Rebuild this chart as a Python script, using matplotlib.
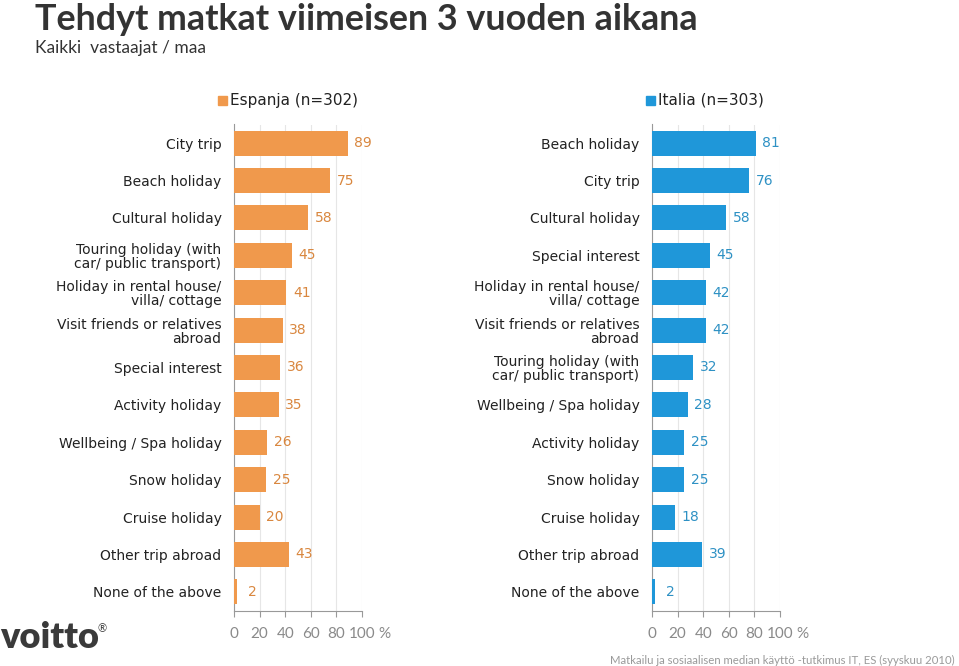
import numpy as np
import matplotlib.pyplot as plt

# data
esp_labels = ["City trip", "Beach holiday", "Cultural holiday",
              "Touring holiday (with\ncar/ public transport)",
              "Holiday in rental house/\nvilla/ cottage",
              "Visit friends or relatives\nabroad", "Special interest",
              "Activity holiday", "Wellbeing / Spa holiday", "Snow holiday",
              "Cruise holiday", "Other trip abroad", "None of the above"]
esp_values = [89, 75, 58, 45, 41, 38, 36, 35, 26, 25, 20, 43, 2]

ita_labels = ["Beach holiday", "City trip", "Cultural holiday", "Special interest",
              "Holiday in rental house/\nvilla/ cottage",
              "Visit friends or relatives\nabroad",
              "Touring holiday (with\ncar/ public transport)",
              "Wellbeing / Spa holiday", "Activity holiday", "Snow holiday",
              "Cruise holiday", "Other trip abroad", "None of the above"]
ita_values = [81, 76, 58, 45, 42, 42, 32, 28, 25, 25, 18, 39, 2]

ticks = [0, 20, 40, 60, 80, 100]

W, H = 959, 666
fig = plt.figure(figsize=(W / 100, H / 100), dpi=100)


def panel(left_px, labels, values, bar_col, txt_col):
    ax = fig.add_axes([left_px / W, (H - 610.5) / H, 128 / W, 486 / H])
    y = np.arange(len(values))
    ax.barh(y, values, height=0.67, color=bar_col, zorder=3)
    ax.set_ylim(len(values) - 0.5, -0.5)
    ax.set_xlim(0, 100)
    ax.set_xticks(ticks)
    ax.set_xticklabels([str(t) for t in ticks], color="#8a8a8a", fontsize=11,
                       family="Lato")
    ax.tick_params(axis="x", direction="out", length=4, color="#999999", pad=8)
    ax.set_yticks(y)
    ax.set_yticklabels(labels, fontsize=10, color="#222222", linespacing=1.0)
    ax.tick_params(axis="y", length=0, pad=9)
    ax.grid(axis="x", color="#e6e6e6", linewidth=0.8, zorder=0)
    for s in ["top", "right"]:
        ax.spines[s].set_visible(False)
    ax.spines["left"].set_color("#999999")
    ax.spines["bottom"].set_color("#999999")
    for yi, v in zip(y, values):
        ax.text(v + 12, yi, str(v), va="center", ha="center",
                color=txt_col, fontsize=10, clip_on=False)
    ax.annotate("%", xy=(100, len(values) - 0.5), xycoords="data",
                xytext=(12, -12), textcoords="offset points",
                ha="left", va="top", color="#8a8a8a", fontsize=11,
                family="Lato", annotation_clip=False)
    return ax


panel(234, esp_labels, esp_values, "#f0994c", "#d9873f")
panel(652, ita_labels, ita_values, "#1f97d9", "#2e91c4")

# legends
fig.patches.append(plt.Rectangle((218 / W, 1 - 105 / H), 9 / W, 9 / H,
                                 transform=fig.transFigure, color="#f0994c"))
fig.text(230 / W, 1 - 100 / H, "Espanja (n=302)", fontsize=11,
         va="center", color="#222222")
fig.patches.append(plt.Rectangle((646 / W, 1 - 105 / H), 9 / W, 9 / H,
                                 transform=fig.transFigure, color="#1f97d9"))
fig.text(658 / W, 1 - 100 / H, "Italia (n=303)", fontsize=11,
         va="center", color="#222222")

# titles
fig.text(35 / W, 1 - 19 / H, "Tehdyt matkat viimeisen 3 vuoden aikana",
         fontsize=25.8, fontweight="bold", family="Lato", color="#333333",
         va="center")
fig.text(35 / W, 1 - 48 / H, "Kaikki  vastaajat / maa", fontsize=12.5,
         family="Lato", color="#333333", va="center")

fig.text(955 / W, 1 - 660 / H,
         "Matkailu ja sosiaalisen median käyttö -tutkimus IT, ES (syyskuu 2010)",
         fontsize=8.2, family="Lato", color="#9a9a9a", ha="right", va="center")

fig.text(0, 1 - 638 / H, "voitto", fontsize=26, fontweight="heavy",
         family="Lato", color="#3a3a3a", va="center")
fig.text(98 / W, 1 - 629 / H, "®", fontsize=8, family="Lato", color="#3a3a3a",
         va="center")

fig.savefig("out.png", dpi=100)
